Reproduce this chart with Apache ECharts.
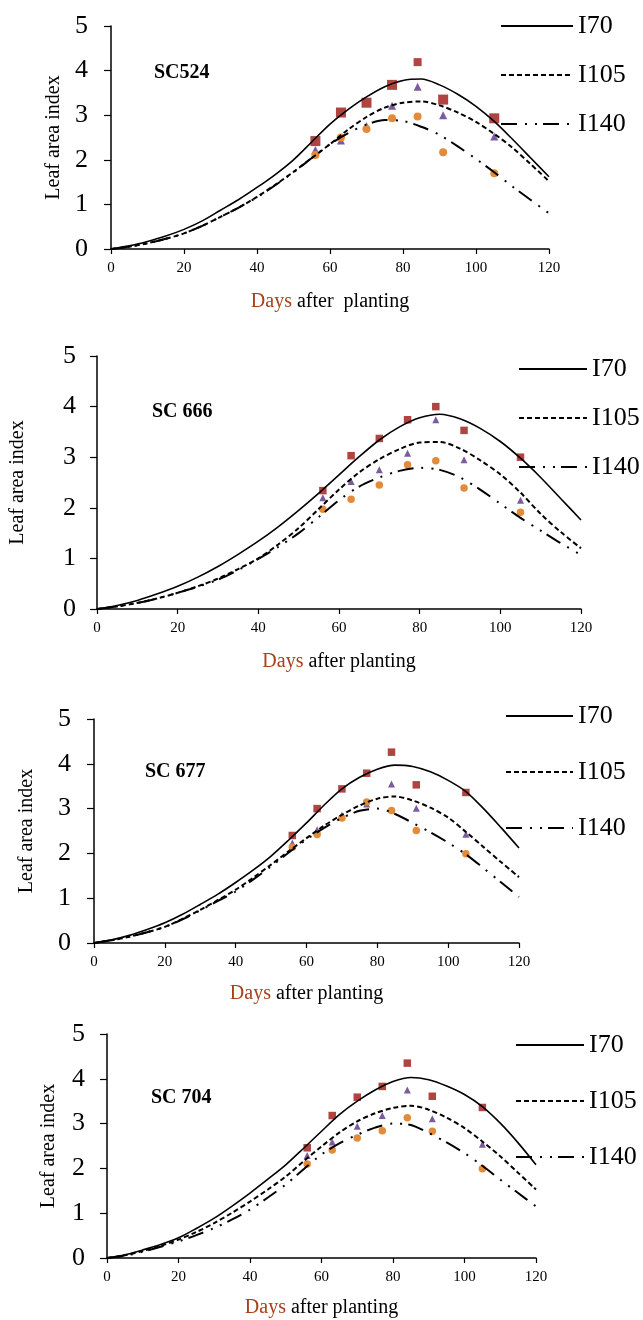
<!DOCTYPE html>
<html><head><meta charset="utf-8">
<script src="https://cdn.jsdelivr.net/npm/echarts@6/dist/echarts.min.js"></script>
<style>html,body{margin:0;padding:0;background:#fff}#c{width:643px;height:1320px}</style>
</head><body><div id="c"></div>
<script>
// ---- data ----
const panelNames = ['SC524', 'SC 666', 'SC 677', 'SC 704'];
const seriesNames = ['I70', 'I105', 'I140'];
const xTicks = [0, 20, 40, 60, 80, 100, 120];
const yTicks = [0, 1, 2, 3, 4, 5];
const obsDays = [56, 63, 70, 77, 84, 91, 105];
const curveDays = [0, 5, 10, 15, 20, 25, 30, 35, 40, 45, 50, 55, 60, 65, 70, 75, 80, 85, 90, 95, 100, 105, 110, 115, 120];

// simulated curves (read every 5 days)
const p1_I70  = [0, 0.07, 0.17, 0.29, 0.44, 0.63, 0.87, 1.11, 1.38, 1.67, 2.00, 2.40, 2.80, 3.13, 3.41, 3.64, 3.78, 3.81, 3.68, 3.47, 3.20, 2.86, 2.46, 2.04, 1.62];
const p1_I105 = [0, 0.05, 0.13, 0.23, 0.35, 0.52, 0.72, 0.93, 1.17, 1.44, 1.73, 2.04, 2.35, 2.68, 2.96, 3.17, 3.28, 3.31, 3.22, 3.06, 2.85, 2.58, 2.27, 1.90, 1.52];
const p1_I140 = [0, 0.05, 0.13, 0.23, 0.35, 0.52, 0.72, 0.93, 1.16, 1.43, 1.72, 2.04, 2.35, 2.60, 2.79, 2.89, 2.87, 2.74, 2.56, 2.30, 2.02, 1.72, 1.40, 1.10, 0.80];
const p2_I70  = [0, 0.07, 0.17, 0.30, 0.45, 0.63, 0.84, 1.08, 1.34, 1.63, 1.95, 2.29, 2.65, 3.01, 3.34, 3.60, 3.78, 3.85, 3.76, 3.57, 3.31, 2.98, 2.60, 2.18, 1.76];
const p2_I105 = [0, 0.05, 0.12, 0.21, 0.32, 0.45, 0.60, 0.79, 1.00, 1.28, 1.60, 1.98, 2.36, 2.70, 2.96, 3.16, 3.29, 3.30, 3.17, 2.94, 2.66, 2.30, 1.88, 1.52, 1.20];
const p2_I140 = [0, 0.05, 0.12, 0.21, 0.32, 0.44, 0.58, 0.77, 0.99, 1.23, 1.50, 1.82, 2.15, 2.42, 2.60, 2.73, 2.79, 2.75, 2.60, 2.36, 2.08, 1.80, 1.55, 1.30, 1.07];
const p3_I70  = [0, 0.07, 0.17, 0.30, 0.45, 0.64, 0.86, 1.09, 1.35, 1.63, 1.94, 2.30, 2.68, 3.08, 3.44, 3.70, 3.88, 3.97, 3.94, 3.82, 3.63, 3.38, 3.00, 2.57, 2.12];
const p3_I105 = [0, 0.06, 0.14, 0.24, 0.36, 0.54, 0.74, 0.96, 1.19, 1.46, 1.75, 2.05, 2.34, 2.62, 2.86, 3.07, 3.22, 3.27, 3.18, 3.02, 2.80, 2.48, 2.14, 1.80, 1.47];
const p3_I140 = [0, 0.06, 0.14, 0.24, 0.36, 0.53, 0.73, 0.94, 1.15, 1.42, 1.71, 2.02, 2.31, 2.57, 2.79, 2.95, 3.00, 2.88, 2.68, 2.47, 2.24, 1.98, 1.67, 1.35, 1.03];
const p4_I70  = [0, 0.07, 0.18, 0.30, 0.45, 0.66, 0.89, 1.16, 1.45, 1.76, 2.08, 2.45, 2.83, 3.20, 3.50, 3.75, 3.94, 4.03, 3.98, 3.84, 3.65, 3.38, 3.01, 2.57, 2.08];
const p4_I105 = [0, 0.06, 0.16, 0.27, 0.41, 0.58, 0.78, 1.01, 1.26, 1.53, 1.82, 2.16, 2.49, 2.80, 3.05, 3.23, 3.35, 3.40, 3.31, 3.13, 2.90, 2.60, 2.27, 1.90, 1.53];
const p4_I140 = [0, 0.05, 0.14, 0.25, 0.37, 0.51, 0.67, 0.86, 1.08, 1.35, 1.64, 1.98, 2.31, 2.56, 2.75, 2.91, 3.00, 2.97, 2.79, 2.58, 2.34, 2.06, 1.75, 1.45, 1.15];

// observed points (square = I70, triangle = I105, circle = I140)
const p1_sq  = [2.42, 3.06, 3.28, 3.68, 4.19, 3.35, 2.93];
const p1_tri = [2.22, 2.43, 2.76, 3.21, 3.64, 3.00, 2.52];
const p1_cir = [2.11, 2.50, 2.69, 2.93, 2.97, 2.17, 1.70];
const p2_sq  = [2.34, 3.03, 3.37, 3.74, 4.00, 3.53, 3.00];
const p2_tri = [2.20, 2.52, 2.75, 3.08, 3.74, 2.95, 2.15];
const p2_cir = [1.97, 2.17, 2.45, 2.85, 2.93, 2.39, 1.91];
const p3_sq  = [2.40, 3.00, 3.44, 3.79, 4.26, 3.53, 3.36];
const p3_tri = [2.23, 2.53, 2.85, 3.10, 3.55, 3.01, 2.43];
const p3_cir = [2.14, 2.42, 2.79, 3.15, 2.96, 2.51, 1.99];
const p4_sq  = [2.46, 3.18, 3.59, 3.83, 4.35, 3.61, 3.36];
const p4_tri = [2.29, 2.59, 2.94, 3.18, 3.75, 3.11, 2.54];
const p4_cir = [2.10, 2.41, 2.68, 2.84, 3.13, 2.83, 1.99];

const curves = [[p1_I70, p1_I105, p1_I140], [p2_I70, p2_I105, p2_I140], [p3_I70, p3_I105, p3_I140], [p4_I70, p4_I105, p4_I140]];
const obs = [[p1_sq, p1_tri, p1_cir], [p2_sq, p2_tri, p2_cir], [p3_sq, p3_tri, p3_cir], [p4_sq, p4_tri, p4_cir]];

// ---- layout / style ----
const FONT = 'Liberation Serif';
const grids = [
  {left: 111, top: 26, width: 438, height: 223},
  {left: 97, top: 356, width: 484, height: 253},
  {left: 94, top: 719, width: 425, height: 224},
  {left: 107, top: 1034, width: 429, height: 224}
];
const yNameGap = [46, 69, 57, 48];
const xNameGap = [43, 43, 41, 40];
const yLabelMargin = [23, 21, 23, 22];
const xNameText = ['{a|Days} after  planting', '{a|Days} after planting', '{a|Days} after planting', '{a|Days} after planting'];
const titlePos = [{left: 154, top: 63}, {left: 152, top: 402}, {left: 145, top: 762}, {left: 151, top: 1088}];
const legendPos = [
  {left: 500, top: 13, itemWidth: 72, itemGap: 23},
  {left: 518, top: 356, itemWidth: 68, itemGap: 23},
  {left: 505, top: 703, itemWidth: 67, itemGap: 30},
  {left: 515, top: 1032, itemWidth: 68, itemGap: 30}
];
const lineStyles = [
  {color: '#000', width: 1.6, type: 'solid'},
  {color: '#000', width: 2, type: [5, 3]},
  {color: '#000', width: 2, type: [16, 8, 2, 8, 2, 6]}
];
const markerSymbols = ['rect', 'triangle', 'circle'];
const markerColors = ['#B04441', '#7B5B9E', '#E38B3B'];
const markerSizes = [[10, 8, 8], [7.5, 7, 7.5], [7.5, 7, 7.5], [7.5, 7, 7.5]];

const option = {
  animation: false,
  backgroundColor: '#fff',
  textStyle: {fontFamily: FONT},
  grid: grids,
  title: panelNames.map((n, i) => ({
    text: n, left: titlePos[i].left, top: titlePos[i].top, padding: 0,
    textStyle: {fontFamily: FONT, fontSize: 20, fontWeight: 'bold', color: '#000'}
  })),
  legend: legendPos.map((l) => ({
    data: seriesNames, orient: 'vertical', left: l.left, top: l.top, padding: 0,
    itemWidth: l.itemWidth, itemHeight: 14, itemGap: l.itemGap, selectedMode: false,
    itemStyle: {opacity: 0, borderWidth: 0},
    textStyle: {fontFamily: FONT, fontSize: 26, color: '#000', lineHeight: 26}
  })),
  xAxis: grids.map((g, i) => ({
    type: 'value', gridIndex: i, min: 0, max: 120, interval: 20,
    name: xNameText[i], nameLocation: 'middle', nameGap: xNameGap[i],
    nameTextStyle: {fontFamily: FONT, fontSize: 20, color: '#000', rich: {a: {fontFamily: FONT, fontSize: 20, color: '#A8401A'}}},
    axisLine: {show: true, lineStyle: {color: '#000', width: 1.5}},
    axisTick: {show: true, inside: false, length: 5, lineStyle: {color: '#000', width: 1.2}},
    axisLabel: {fontFamily: FONT, fontSize: 15, color: '#000', margin: 12, formatter: (v) => xTicks.includes(v) ? String(v) : ''},
    splitLine: {show: false}
  })),
  yAxis: grids.map((g, i) => ({
    type: 'value', gridIndex: i, min: 0, max: 5, interval: 1,
    name: 'Leaf area index', nameLocation: 'middle', nameGap: yNameGap[i], nameRotate: 90,
    nameTextStyle: {fontFamily: FONT, fontSize: 20, color: '#000'},
    axisLine: {show: true, lineStyle: {color: '#000', width: 1.5}},
    axisTick: {show: true, inside: false, length: 7, lineStyle: {color: '#000', width: 1.2}},
    axisLabel: {fontFamily: FONT, fontSize: 26, color: '#000', margin: yLabelMargin[i], formatter: (v) => yTicks.includes(v) ? String(v) : ''},
    splitLine: {show: false}
  })),
  series: []
};

for (let p = 0; p < 4; p++) {
  for (let k = 0; k < 3; k++) {
    option.series.push({
      type: 'scatter', name: 'obs' + k, xAxisIndex: p, yAxisIndex: p,
      symbol: markerSymbols[k],
      symbolSize: (p === 0 && k === 0) ? (v, prm) => (prm.dataIndex === 4 ? 8 : 10) : markerSizes[p][k],
      itemStyle: {color: markerColors[k], opacity: 1},
      data: obsDays.map((d, j) => [d, obs[p][k][j]]),
      z: 2
    });
  }
  for (let k = 0; k < 3; k++) {
    option.series.push({
      type: 'line', name: seriesNames[k], xAxisIndex: p, yAxisIndex: p,
      smooth: 0.3, symbol: 'none', showSymbol: false,
      lineStyle: lineStyles[k], itemStyle: {color: '#000'},
      data: curveDays.map((d, j) => [d, curves[p][k][j]]),
      z: 3
    });
  }
}

const chart = echarts.init(document.getElementById('c'), null, {renderer: 'canvas'});
chart.setOption(option);
</script>
</body></html>
